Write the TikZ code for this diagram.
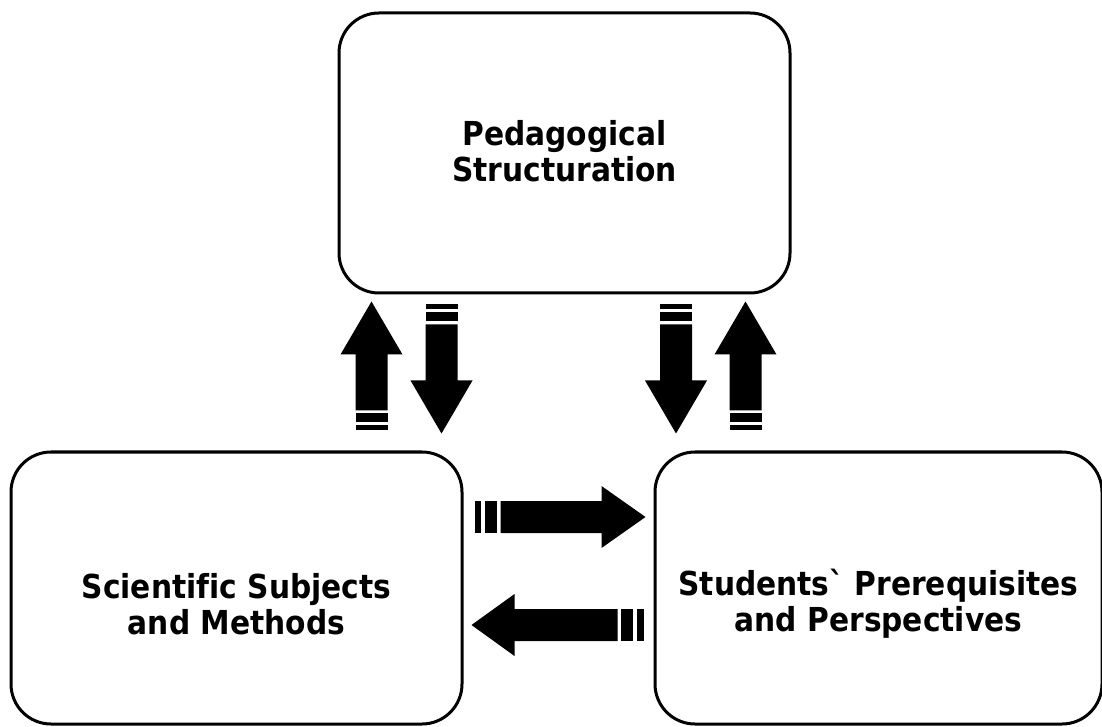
\documentclass[tikz,border=0pt]{standalone}
\usepackage{fontspec}
\defaultfontfeatures{}
\setmainfont{DejaVu Sans}[FakeStretch=0.9, Ligatures={NoCommon,TeXOff}]
\usetikzlibrary{calc}

\tikzset{
  block/.style={draw=black, line width=3pt, rounded corners=40pt, inner sep=0pt},
  caption/.style={align=center, font=\fontsize{33}{36}\selectfont\bfseries, inner sep=0pt},
  % striped block arrow pointing along +x: total length / head length / stripe unit
  pics/stripedarrow/.style args={#1/#2/#3}{code={
    \fill (0,-16) rectangle ({#3},16);
    \fill ({1.6*#3},-16) rectangle ({3.4*#3},16);
    \fill ({4*#3},-16) -- ({#1-#2},-16) -- ({#1-#2},-31) -- (#1,0)
      -- ({#1-#2},31) -- ({#1-#2},16) -- ({4*#3},16) -- cycle;
  }}
}

\begin{document}
\begin{tikzpicture}[x=1pt,y=1pt]
  \useasboundingbox (0,0) rectangle (1102,726);
  \begin{scope}
    \clip (0,0) rectangle (1102,726);

    % the three boxes
    \node[block, minimum width=451pt, minimum height=280pt] (ped) at (564.5,573) {};
    \node[block, minimum width=451pt, minimum height=272pt] (sci) at (236.5,138) {};
    \node[block, minimum width=447pt, minimum height=272pt] (stu) at (878.5,138) {};

    % their captions
    \node[caption] (pedText) at ($(ped.center)+(0,2)$) {Pedagogical\\Structuration};
    \node[caption] (sciText) at ($(sci.center)+(0,-16)$) {Scientific Subjects\\and Methods};
    \node[caption] (stuText) at ($(stu.center)+(0,-16)$) {Students` Prerequisites\\and Perspectives};

    % tails of the striped arrows
    \coordinate (upL)   at ($(sci.north east)+(-92,20)$);
    \coordinate (downL) at ($(ped.south west)+(104,-10)$);
    \coordinate (downR) at ($(ped.south east)+(-115.5,-10)$);
    \coordinate (upR)   at ($(stu.north west)+(92,20)$);
    \coordinate (toR)   at ($(sci.east)+(11,71)$);
    \coordinate (toL)   at ($(stu.west)+(-10,-37)$);

    % arrows between the boxes
    \pic[rotate=90]  at (upL)   {stripedarrow=129/53/5};
    \pic[rotate=-90] at (downL) {stripedarrow=129/53/5};
    \pic[rotate=-90] at (downR) {stripedarrow=129/53/5};
    \pic[rotate=90]  at (upR)   {stripedarrow=129/53/5};
    \pic             at (toR)   {stripedarrow=171/44/6.5};
    \pic[rotate=180] at (toL)   {stripedarrow=172/43/6.5};
  \end{scope}
\end{tikzpicture}
\end{document}
